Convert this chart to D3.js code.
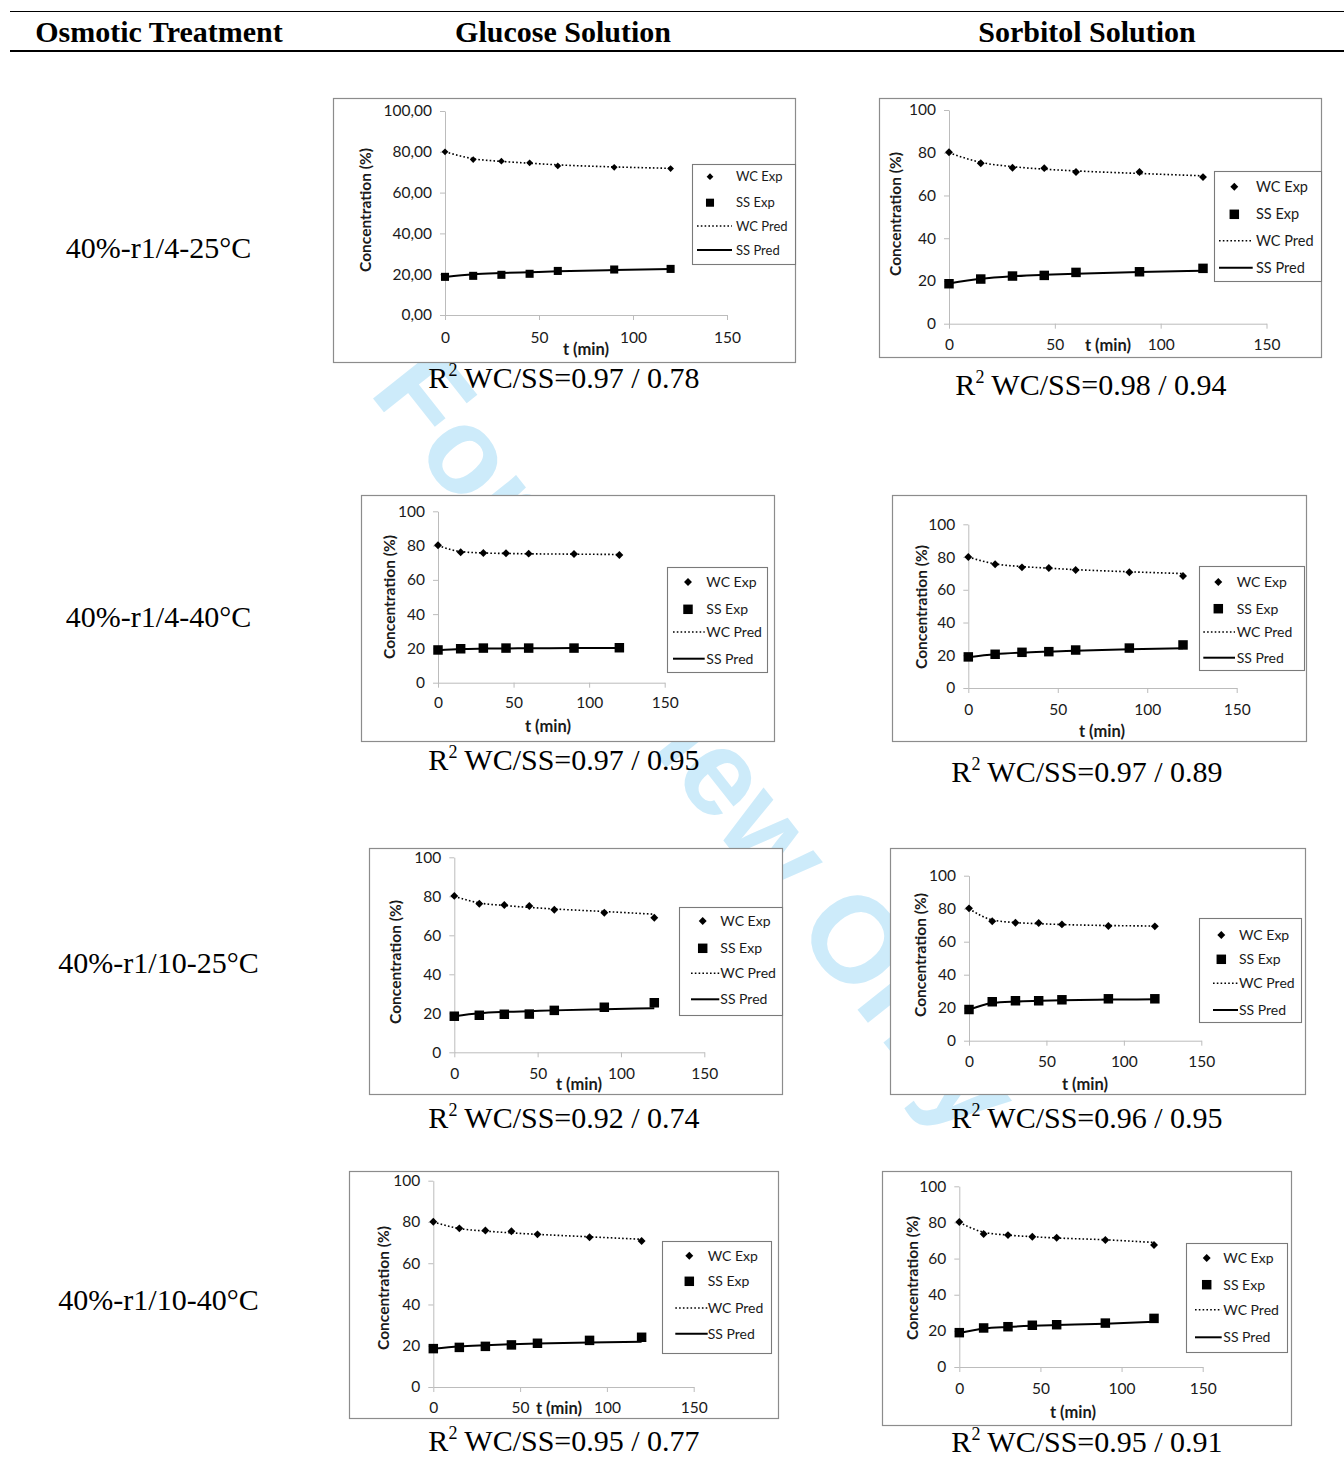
<!DOCTYPE html>
<html><head><meta charset="utf-8">
<script src="https://cdn.jsdelivr.net/npm/d3@7"></script>
<style>html,body{margin:0;padding:0;background:#fff;} svg{display:block;}</style>
</head><body>
<svg id="fig" width="1344" height="1457"></svg>
<script>
// ---------------- DATA ----------------
const headers = ["Osmotic Treatment", "Glucose Solution", "Sorbitol Solution"];
const treatments = ["40%-r1/4-25°C", "40%-r1/4-40°C", "40%-r1/10-25°C", "40%-r1/10-40°C"];
const solutions = ["Glucose", "Sorbitol"];
const timeMin = [0, 15, 30, 45, 60, 90, 120];
const yTicks = [0, 20, 40, 60, 80, 100];
const xTicks = [0, 50, 100, 150];
const legendLabels = ["WC Exp", "SS Exp", "WC Pred", "SS Pred"];

const wcExpGlucose = [
  [80.0, 76.2, 75.4, 74.6, 73.1, 72.4, 71.8],
  [80.2, 76.1, 75.7, 75.5, 75.3, 75.1, 74.5],
  [80.2, 76.2, 75.5, 75.0, 73.1, 71.6, 69.0],
  [80.1, 76.9, 75.9, 75.5, 74.0, 72.6, 70.8]
];
const ssExpGlucose = [
  [18.7, 19.2, 19.7, 20.2, 21.6, 22.3, 22.6],
  [19.1, 19.8, 20.2, 20.2, 20.2, 20.2, 20.4],
  [18.5, 19.0, 19.5, 19.6, 21.5, 23.1, 25.4],
  [18.6, 19.2, 19.7, 20.4, 21.2, 22.6, 24.1]
];
const wcPredGlucose = [
  [80.0, 76.6, 75.3, 74.4, 73.6, 72.6, 71.9],
  [80.0, 76.5, 75.7, 75.4, 75.2, 75.0, 74.8],
  [80.0, 76.6, 75.3, 74.3, 73.5, 72.2, 70.8],
  [80.0, 76.8, 75.6, 74.7, 74.0, 72.8, 71.6]
];
const ssPredGlucose = [
  [18.6, 20.0, 20.6, 21.0, 21.4, 22.0, 22.5],
  [19.0, 19.7, 19.9, 20.0, 20.1, 20.2, 20.3],
  [18.5, 20.0, 20.7, 21.1, 21.5, 22.1, 22.6],
  [18.5, 19.6, 20.2, 20.7, 21.1, 21.6, 21.9]
];
const wcExpSorbitol = [
  [80.2, 75.1, 73.0, 72.8, 71.0, 71.0, 68.6],
  [80.0, 75.6, 73.7, 73.3, 72.1, 70.7, 68.4],
  [80.2, 72.4, 71.5, 71.3, 70.5, 69.5, 69.3],
  [80.2, 73.6, 73.0, 72.1, 71.5, 70.3, 67.5]
];
const ssExpSorbitol = [
  [18.7, 20.9, 22.3, 22.6, 24.0, 24.3, 25.9],
  [19.0, 20.6, 21.8, 22.2, 23.2, 24.4, 26.3],
  [18.9, 23.6, 24.2, 24.2, 24.8, 25.4, 25.4],
  [19.0, 21.6, 22.3, 23.1, 23.4, 24.3, 26.9]
];
const wcPredSorbitol = [
  [80.0, 75.5, 73.5, 72.3, 71.5, 70.3, 69.2],
  [80.0, 75.8, 74.2, 73.2, 72.3, 71.0, 69.9],
  [80.0, 73.2, 71.6, 70.9, 70.4, 69.8, 69.5],
  [80.0, 74.6, 73.0, 72.1, 71.4, 70.4, 68.9]
];
const ssPredSorbitol = [
  [18.8, 21.0, 22.2, 22.9, 23.4, 24.2, 24.8],
  [18.8, 20.6, 21.6, 22.2, 22.7, 23.6, 24.3],
  [18.8, 22.9, 23.8, 24.2, 24.5, 24.9, 25.1],
  [18.8, 21.3, 22.2, 22.8, 23.2, 24.0, 25.0]
];
const r2Glucose = [["0.97", "0.78"], ["0.97", "0.95"], ["0.92", "0.74"], ["0.95", "0.77"]];
const r2Sorbitol = [["0.98", "0.94"], ["0.97", "0.89"], ["0.96", "0.95"], ["0.95", "0.91"]];

// ---------------- LAYOUT ----------------
const headerX = [159, 563, 1087];
const rowLabelBase = [258, 627, 973, 1310];
const layout = [
  {frame:[333,98,795,362], x0:445, x150:727, y0:315, y100:111, xLabY:337.7, xt:[586,349], yt:[366,210], dec:2, ms:0.85, lfs:13,
   lg:{box:[692,164,795,264], mx:710, tx:736, lx:[697,732], ry:[176.7,202.7,226,250]}, r2:[564,388]},
  {frame:[879,98,1321,357], x0:949, x150:1266.5, y0:323.7, y100:110, xLabY:345, xt:[1108,345], yt:[896,214], dec:0, ms:1, lfs:14.5,
   lg:{box:[1214,171,1321,281], mx:1234.3, tx:1256, lx:[1219,1252.7], ry:[186.7,214.3,240.7,267.7]}, r2:[1091,395]},
  {frame:[361,495,774,741], x0:438, x150:664.7, y0:682.7, y100:511.3, xLabY:703, xt:[548,726], yt:[389.7,597], dec:0, ms:1, lfs:14,
   lg:{box:[667,567,767,672], mx:688, tx:706.3, lx:[673,704.7], ry:[582,609.3,632,658.7]}, r2:[564,770]},
  {frame:[892,495,1306,741], x0:968.3, x150:1236.7, y0:688, y100:524.3, xLabY:710, xt:[1102,731], yt:[921.7,607], dec:0, ms:1, lfs:14,
   lg:{box:[1199,566,1304,670], mx:1218.3, tx:1236.7, lx:[1203.3,1235], ry:[582,608.7,632,657.7]}, r2:[1087,782]},
  {frame:[369,848,782,1094], x0:454.3, x150:704.3, y0:1052.3, y100:857.3, xLabY:1074, xt:[579,1084], yt:[396,962], dec:0, ms:1, lfs:14,
   lg:{box:[679,907,782,1015], mx:702.7, tx:720.3, lx:[691,719.3], ry:[921,948.3,973.3,999.3]}, r2:[564,1128]},
  {frame:[890,848,1305,1094], x0:969, x150:1201.3, y0:1040.7, y100:875.7, xLabY:1062, xt:[1085,1084], yt:[921,955], dec:0, ms:1, lfs:14,
   lg:{box:[1199,918,1301,1022], mx:1221.3, tx:1239, lx:[1213,1238], ry:[935,959.3,983.3,1010]}, r2:[1087,1128]},
  {frame:[349,1171,778,1418], x0:433.3, x150:693.7, y0:1387, y100:1180.7, xLabY:1408, xt:[559,1408], yt:[384,1288], dec:0, ms:1, lfs:14,
   lg:{box:[662,1241,771,1353], mx:689.3, tx:707.7, lx:[675.3,707.7], ry:[1255.7,1281.3,1308,1333.7]}, r2:[564,1451]},
  {frame:[882,1171,1291,1425], x0:959.3, x150:1202.7, y0:1367, y100:1186.3, xLabY:1389, xt:[1073,1412], yt:[913,1278], dec:0, ms:1, lfs:14,
   lg:{box:[1186,1243,1287,1352], mx:1206.7, tx:1223.3, lx:[1195,1221.7], ry:[1258,1284.7,1309.7,1337.3]}, r2:[1087,1452]}
];

const SERIF = "'Liberation Serif', 'Times New Roman', serif";
const SANS = "Lato, 'Liberation Sans', sans-serif";
const dataBy = {
  Glucose: {wcE: wcExpGlucose, ssE: ssExpGlucose, wcP: wcPredGlucose, ssP: ssPredGlucose, r2: r2Glucose},
  Sorbitol: {wcE: wcExpSorbitol, ssE: ssExpSorbitol, wcP: wcPredSorbitol, ssP: ssPredSorbitol, r2: r2Sorbitol}
};

const svg = d3.select("#fig");

// watermark
svg.append("text")
  .attr("transform", "translate(368,392) rotate(51.6)")
  .attr("font-family", "'Liberation Sans', Arial, sans-serif")
  .attr("font-weight", "bold").attr("font-size", 122)
  .attr("fill", "#cdebfa").text("For Review Only");

// header
svg.append("line").attr("x1", 10).attr("x2", 1344).attr("y1", 11.5).attr("y2", 11.5).attr("stroke", "#000").attr("stroke-width", 1);
svg.append("line").attr("x1", 10).attr("x2", 1344).attr("y1", 51).attr("y2", 51).attr("stroke", "#000").attr("stroke-width", 2);
headers.forEach((h, i) => {
  svg.append("text").attr("x", headerX[i]).attr("y", 42).attr("text-anchor", "middle")
    .attr("font-family", SERIF).attr("font-weight", "bold").attr("font-size", 30).attr("fill", "#000").text(h);
});
treatments.forEach((t, i) => {
  svg.append("text").attr("x", 158.5).attr("y", rowLabelBase[i]).attr("text-anchor", "middle")
    .attr("font-family", SERIF).attr("font-size", 30).attr("fill", "#000").text(t);
});

// charts
treatments.forEach((tr, row) => {
  solutions.forEach((sol, col) => {
    const L = layout[row * 2 + col];
    const D = dataBy[sol];
    const wcE = D.wcE[row], ssE = D.ssE[row], wcP = D.wcP[row], ssP = D.ssP[row];
    const g = svg.append("g");
    g.append("rect").attr("x", L.frame[0] + 0.5).attr("y", L.frame[1] + 0.5)
      .attr("width", L.frame[2] - L.frame[0]).attr("height", L.frame[3] - L.frame[1])
      .attr("fill", "#fff").attr("stroke", "#8c8c8c").attr("stroke-width", 1.2);

    const x = d3.scaleLinear().domain([0, 150]).range([L.x0, L.x150]);
    const y = d3.scaleLinear().domain([0, 100]).range([L.y0, L.y100]);
    const fmt = L.dec ? (d => d3.format(".2f")(d).replace(".", ",")) : d3.format("d");

    const ya = g.append("g").attr("transform", `translate(${L.x0},0)`)
      .call(d3.axisLeft(y).tickValues(yTicks).tickSize(5).tickSizeOuter(0).tickPadding(8).tickFormat(fmt));
    const xa = g.append("g").attr("transform", `translate(0,${L.y0})`)
      .call(d3.axisBottom(x).tickValues(xTicks).tickSize(5).tickSizeOuter(0).tickFormat(d3.format("d")));
    xa.selectAll(".tick text").attr("y", L.xLabY - L.y0).attr("dy", "0.35em");
    [ya, xa].forEach(a => {
      a.select(".domain").attr("stroke", "#bcbcbc");
      a.selectAll(".tick line").attr("stroke", "#bcbcbc");
      a.selectAll("text").attr("font-family", SANS).attr("font-size", 15.5).attr("fill", "#1a1a1a");
    });

    // axis titles
    g.append("text").attr("transform", `translate(${L.yt[0]},${L.yt[1]}) rotate(-90)`)
      .attr("text-anchor", "middle").attr("dy", "0.35em")
      .attr("font-family", SANS).attr("font-weight", "bold").attr("font-size", 15.5).attr("fill", "#1a1a1a")
      .text("Concentration (%)");
    g.append("text").attr("x", L.xt[0]).attr("y", L.xt[1]).attr("dy", "0.35em").attr("text-anchor", "middle")
      .attr("font-family", SANS).attr("font-weight", "bold").attr("font-size", 16.5).attr("fill", "#1a1a1a")
      .text("t (min)");

    // lines
    const line = d3.line().x((d, i) => x(timeMin[i])).y(d => y(d)).curve(d3.curveMonotoneX);
    g.append("path").attr("d", line(wcP)).attr("fill", "none").attr("stroke", "#000")
      .attr("stroke-width", 1.6).attr("stroke-dasharray", "1.6,2.2");
    g.append("path").attr("d", line(ssP)).attr("fill", "none").attr("stroke", "#000").attr("stroke-width", 2);

    // markers
    const diamond = d3.symbol(d3.symbolDiamond2, 40 * L.ms * L.ms)();
    const square = d3.symbol(d3.symbolSquare, 90 * L.ms * L.ms)();
    g.selectAll(null).data(wcE).join("path")
      .attr("transform", (d, i) => `translate(${x(timeMin[i])},${y(d)})`).attr("d", diamond).attr("fill", "#000");
    g.selectAll(null).data(ssE).join("path")
      .attr("transform", (d, i) => `translate(${x(timeMin[i])},${y(d)})`).attr("d", square).attr("fill", "#000");

    // legend
    const lg = L.lg;
    g.append("rect").attr("x", lg.box[0] + 0.5).attr("y", lg.box[1] + 0.5)
      .attr("width", lg.box[2] - lg.box[0]).attr("height", lg.box[3] - lg.box[1])
      .attr("fill", "#fff").attr("stroke", "#7a7a7a").attr("stroke-width", 1.1);
    legendLabels.forEach((t, j) => {
      const yy = lg.ry[j];
      if (j === 0) g.append("path").attr("transform", `translate(${lg.mx},${yy})`).attr("d", diamond).attr("fill", "#000");
      if (j === 1) g.append("path").attr("transform", `translate(${lg.mx},${yy})`).attr("d", square).attr("fill", "#000");
      if (j === 2) g.append("line").attr("x1", lg.lx[0]).attr("x2", lg.lx[1]).attr("y1", yy).attr("y2", yy)
        .attr("stroke", "#000").attr("stroke-width", 1.6).attr("stroke-dasharray", "1.6,2.2");
      if (j === 3) g.append("line").attr("x1", lg.lx[0]).attr("x2", lg.lx[1]).attr("y1", yy).attr("y2", yy)
        .attr("stroke", "#000").attr("stroke-width", 2);
      g.append("text").attr("x", lg.tx).attr("y", yy).attr("dy", "0.35em")
        .attr("font-family", SANS).attr("font-size", L.lfs).attr("fill", "#1a1a1a").text(t);
    });

    // R² label
    const r2 = D.r2[row];
    const rt = svg.append("text").attr("x", L.r2[0]).attr("y", L.r2[1]).attr("text-anchor", "middle")
      .attr("font-family", SERIF).attr("font-size", 30).attr("fill", "#000");
    rt.append("tspan").text("R");
    rt.append("tspan").attr("font-size", 18).attr("dy", -12).text("2");
    rt.append("tspan").attr("dy", 12).text(` WC/SS=${r2[0]} / ${r2[1]}`);
  });
});
</script>
</body></html>
